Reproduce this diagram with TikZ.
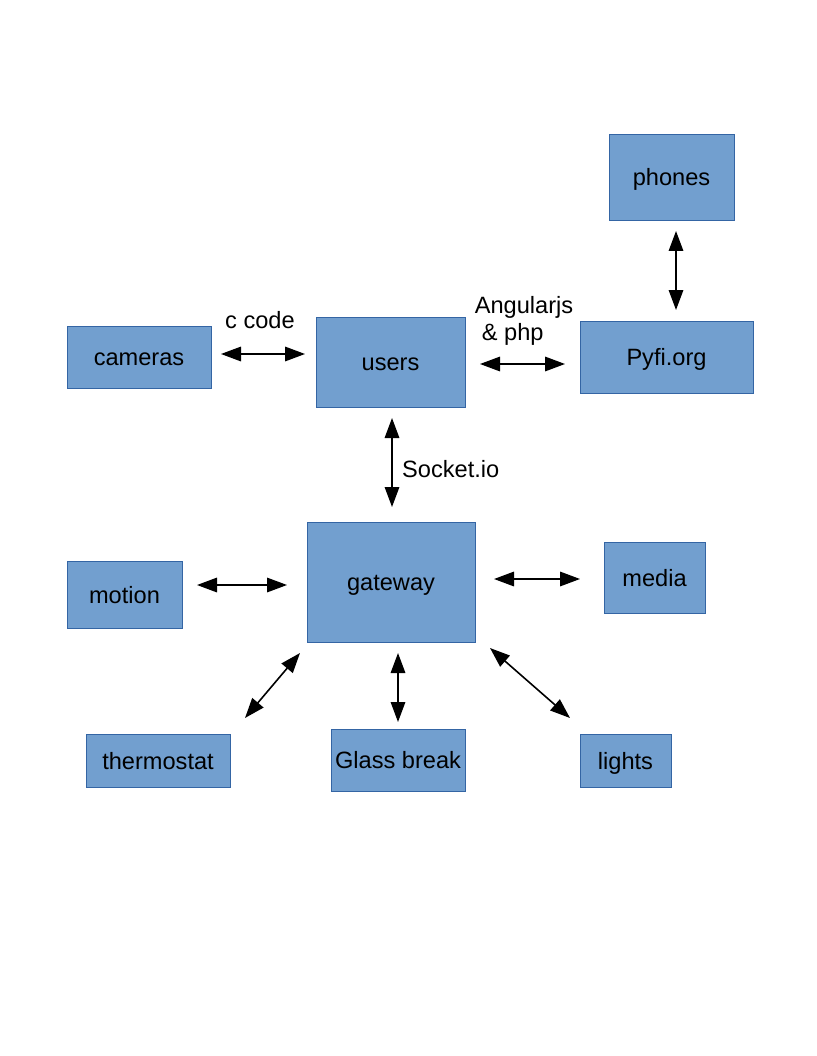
\documentclass[tikz,border=0pt]{standalone}
\usepackage{fontspec}
\setmainfont{Liberation Sans}
\usetikzlibrary{arrows.meta}
\begin{document}
\begin{tikzpicture}[x=1pt,y=-1pt,
  box/.style={draw=boxborder,fill=boxfill,line width=0.8pt,inner sep=0pt,text height=17pt,text depth=0pt,font=\fontsize{23.6}{27}\selectfont,text=black},
  link/.style={line width=1.6pt,{Triangle[length=20pt,width=14.5pt]}-{Triangle[length=20pt,width=14.5pt]}},
  lbl/.style={font=\fontsize{23.6}{27}\selectfont,inner sep=0pt}]
\definecolor{boxfill}{HTML}{729FCF}
\definecolor{boxborder}{HTML}{3465A4}
\useasboundingbox (0,0) rectangle (816,1056);
% boxes
\node[box,minimum width=125,minimum height=86] (phones) at (671.5,177) {phones};
\node[box,minimum width=144,minimum height=62] (cameras) at (139,357) {cameras};
\node[box,minimum width=149,minimum height=90] (users) at (390.5,362) {users};
\node[box,minimum width=173,minimum height=72] (pyfi) at (666.5,357) {Pyfi.org};
\node[box,minimum width=168,minimum height=120] (gateway) at (391,582) {gateway};
\node[box,minimum width=115,minimum height=67] (motion) at (124.5,594.5) {motion};
\node[box,minimum width=101,minimum height=71] (media) at (654.5,577.5) {media};
\node[box,minimum width=144,minimum height=53] (thermostat) at (158,760.5) {thermostat};
\node[box,minimum width=134,minimum height=62] (glass) at (398,760) {Glass break};
\node[box,minimum width=91,minimum height=53] (lights) at (625.5,760.5) {lights};
% arrow end points
\coordinate (a1) at (221,354); \coordinate (a2) at (305,354);
\coordinate (b1) at (480,364); \coordinate (b2) at (565,364);
\coordinate (c1) at (676,231); \coordinate (c2) at (676,310);
\coordinate (d1) at (392,418); \coordinate (d2) at (392,507);
\coordinate (e1) at (197,585); \coordinate (e2) at (287,585);
\coordinate (f1) at (494,579); \coordinate (f2) at (580,579);
\coordinate (g1) at (300,653); \coordinate (g2) at (245,718);
\coordinate (h1) at (398,653); \coordinate (h2) at (398,722);
\coordinate (i1) at (490,648); \coordinate (i2) at (570,718);
\draw[link] (a1) -- (a2);
\draw[link] (b1) -- (b2);
\draw[link] (c1) -- (c2);
\draw[link] (d1) -- (d2);
\draw[link] (e1) -- (e2);
\draw[link] (f1) -- (f2);
\draw[link] (g1) -- (g2);
\draw[link] (h1) -- (h2);
\draw[link] (i1) -- (i2);
% labels
\node[lbl] (lc) at (260,320) {c code};
\node[lbl,align=left] (lang) at (524,320.5) {Angularjs\\\hspace*{0.3em}\& php};
\node[lbl,anchor=west] (lsock) at (402,469) {Socket.io};
\end{tikzpicture}
\end{document}
